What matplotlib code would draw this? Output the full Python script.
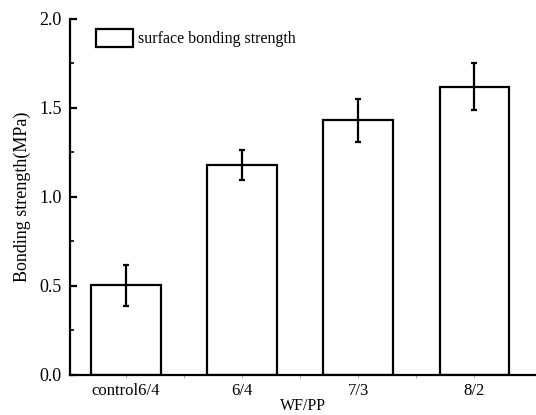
import matplotlib.pyplot as plt
import numpy as np

groups = ['control6/4', '6/4', '7/3', '8/2']
strength = [0.505, 1.18, 1.43, 1.62]
err = [0.115, 0.083, 0.12, 0.13]

plt.rcParams['font.family'] = ['Liberation Serif', 'DejaVu Serif']

fig = plt.figure(figsize=(5.36, 4.15), dpi=100)
ax = fig.add_axes([0.1306, 0.0964, 0.8694, 0.858])

x = np.arange(len(groups))
ax.bar(x, strength, width=0.6, facecolor='white', edgecolor='black',
       linewidth=1.6, label='surface bonding strength', zorder=2)
ax.errorbar(x, strength, yerr=err, fmt='none', ecolor='black',
            elinewidth=1.6, capsize=2.5, capthick=1.6, zorder=3)

ax.set_xlim(-0.483, 3.53)
ax.set_ylim(0, 2.0)
ax.set_yticks([0.0, 0.5, 1.0, 1.5, 2.0])
ax.set_yticks([0.25, 0.75, 1.25, 1.75], minor=True)
ax.set_xticks(x)
ax.set_xticks(x[:-1] + 0.5, minor=True)
ax.set_xticklabels(groups)

for s in ['top', 'right']:
    ax.spines[s].set_visible(False)
for s in ['left', 'bottom']:
    ax.spines[s].set_linewidth(1.6)

ax.tick_params(axis='y', which='major', direction='in', length=5, width=1.6,
               labelsize=13, pad=6)
ax.tick_params(axis='y', which='minor', direction='in', length=3, width=1.2)
ax.tick_params(axis='x', which='both', direction='out', length=2, width=0.6,
               color='#999999', labelsize=12, pad=4)

ax.set_ylabel('Bonding strength(MPa)', fontsize=13, labelpad=6)
ax.set_xlabel('WF/PP', fontsize=11.5, labelpad=-1)

ax.legend(loc='upper left', frameon=False, fontsize=11.5, handlelength=2.3,
          handleheight=1.35, handletextpad=0.3, bbox_to_anchor=(0.025, 1.012))

fig.savefig('out.png', dpi=100)
